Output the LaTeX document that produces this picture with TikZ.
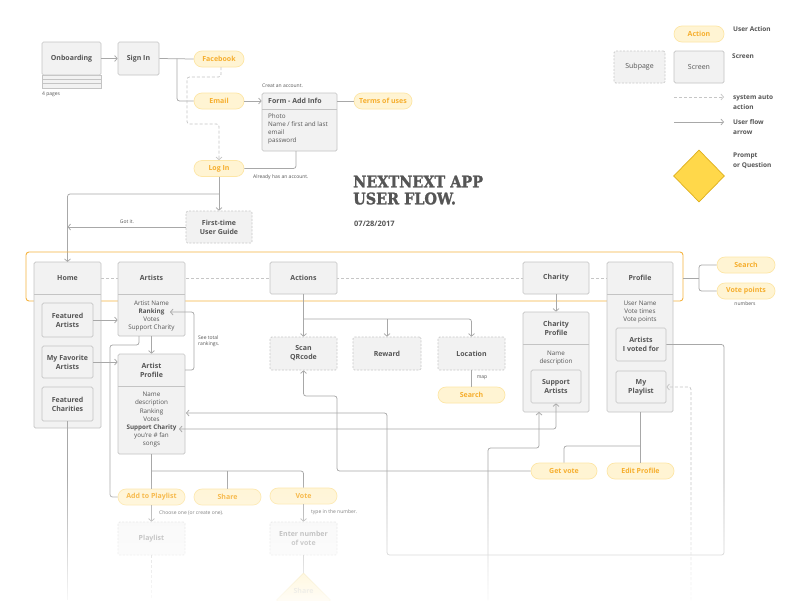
\documentclass[tikz,border=0pt]{standalone}
\usepackage{fontspec}
\setmainfont{Open Sans}
\newfontfamily\titlefont{DejaVu Serif}[BoldFeatures={FakeBold=1.6}]
\usetikzlibrary{arrows.meta,fadings,shapes.geometric}
\definecolor{tgray}{HTML}{555555}
\definecolor{bdr}{HTML}{C4C4C4}
\definecolor{bfill}{HTML}{F2F2F2}
\definecolor{dbdr}{HTML}{C8C8C8}
\definecolor{lgray}{HTML}{A8A8A8}
\definecolor{dgray}{HTML}{C6C6C6}
\definecolor{pfill}{HTML}{FFF4D3}
\definecolor{pbdr}{HTML}{FDE6A6}
\definecolor{porange}{HTML}{F6AE2D}
\definecolor{bandc}{HTML}{F6B440}
\definecolor{diafill}{HTML}{FFD84A}
\definecolor{diabdr}{HTML}{DDAF1C}
\tikzset{
 scr/.style={draw=bdr, fill=bfill, line width=0.7pt, rounded corners=1.5pt, inner sep=0pt, align=center, font=\bfseries\fontsize{7}{9}\selectfont, text=tgray},
 subpg/.style={scr, draw=dbdr, dash pattern=on 2pt off 1.5pt},
 pill/.style={draw=pbdr, fill=pfill, line width=0.7pt, rounded corners=8pt, minimum height=16pt, inner sep=0pt, font=\bfseries\fontsize{7}{8}\selectfont, text=porange},
 ln/.style={draw=lgray, line width=0.75pt, rounded corners=2.5pt},
 tip/.tip={Straight Barb[length=2.6pt,width=6pt]},
 arr/.style={ln, -tip},
 dln/.style={draw=dgray, line width=0.75pt, dash pattern=on 3pt off 2pt, rounded corners=2.5pt},
 small/.style={font=\fontsize{5}{6.5}\selectfont, text=tgray, inner sep=0pt, align=left},
 body/.style={font=\fontsize{6.3}{8}\selectfont, align=center, text=tgray, inner sep=0pt},
 hd/.style={font=\bfseries\fontsize{7}{9}\selectfont, align=center, text=tgray, inner sep=0pt},
 leg/.style={font=\bfseries\fontsize{6.5}{10}\selectfont, text=tgray, anchor=west, align=left, inner sep=0pt},
 div/.style={draw=bdr, line width=0.7pt},
 ttl/.style={anchor=west, inner sep=0pt, text=tgray, font=\titlefont\bfseries\fontsize{16}{18}\selectfont},
}
\begin{document}
\begin{tikzpicture}[x=1pt,y=-1pt]
\useasboundingbox[fill=white] (0,0) rectangle (800,600);

% ---------- top-left ----------
\fill[bfill, draw=bdr, line width=0.6pt] (42,75) rectangle (101,88);
\draw[div] (42,79) -- (101,79);
\draw[div] (42,83.5) -- (101,83.5);
\node[scr, minimum width=59pt, minimum height=33pt] (onb) at (71.5,58.5) {Onboarding};
\node[small, anchor=west] (pages) at (42,94) {4 pages};
\node[scr, minimum width=41pt, minimum height=33pt] (signin) at (138.5,58.5) {Sign In};
\node[pill, minimum width=50pt] (fb) at (219,59) {Facebook};
\node[pill, minimum width=50pt] (email) at (219,101) {Email};
\node[scr, minimum width=75pt, minimum height=58pt] (form) at (299.5,122) {};
\draw[div] (262,109) -- (337,109);
\node[hd, anchor=west] (formhd) at (268,101) {Form - Add Info};
\node[body, anchor=north west, align=left] (formbody) at (268,114) {Photo\\Name / first and last\\email\\password};
\node[small, anchor=west] (create) at (262,86) {Creat an account.};
\node[pill, minimum width=58pt] (terms) at (383,101) {Terms of uses};
\node[pill, minimum width=50pt] (login) at (219,168.5) {Log In};
\node[small, anchor=west] (already) at (253,177) {Already has an account.};
\node[subpg, minimum width=66pt, minimum height=32pt] (first) at (219,227) {First-time\\User Guide};
\node[small] (gotit) at (127,222) {Got it.};

\draw[arr] (onb) -- (signin);
\draw[ln] (signin.east) -- (fb.west);
\draw[ln] (177,58.5) |- (email.west);
\draw[arr] (email.east) -- (email.east -| form.west);
\draw[ln] (terms.west -| form.east) -- (terms.west);
\draw[dln, -tip] (221,67) -- (221,77) -- (187,77) -- (187,124) -- (219,124) -- (login.north);
\draw[ln] (296,151) |- (login.east);
\draw[arr] (login) -- (first);
\draw[arr] (219,194) -| (67.5,262);
\draw[arr] (first.west) -- (67.5,227);

% ---------- title ----------
\node[ttl] (t1) at (353,181.5) {\scalebox{0.9}[1]{NEXTNEXT APP}};
\node[ttl] (t2) at (353,198.5) {\scalebox{0.9}[1]{USER FLOW.}};
\node[anchor=west, inner sep=0pt, text=tgray, font=\bfseries\fontsize{7.5}{9}\selectfont] (date) at (354,224) {07/28/2017};

% ---------- legend ----------
\node[pill, minimum width=50pt] (legaction) at (699,34) {Action};
\node[leg] (l1) at (733,29) {User Action};
\node[subpg, minimum width=51pt, minimum height=32pt, font=\fontsize{7}{9}\selectfont] (legsub) at (639.5,67) {Subpage};
\node[scr, minimum width=50pt, minimum height=32pt, font=\fontsize{7}{9}\selectfont] (legscr) at (699,67) {Screen};
\node[leg] (l2) at (732,56) {Screen};
\coordinate (da) at (674,97); \coordinate (db) at (724,97);
\draw[dln, -tip] (da) -- (db);
\node[leg] (l3) at (733,102) {system auto\\action};
\coordinate (sa) at (674,122); \coordinate (sb) at (724,122);
\draw[arr] (sa) -- (sb);
\node[leg] (l4) at (733,127) {User flow\\arrow};
\node[diamond, draw=diabdr, fill=diafill, line width=0.7pt, minimum width=51pt, minimum height=52pt, inner sep=0pt] (legdia) at (699,176) {};
\node[leg] (l5) at (733,160.5) {Prompt\\or Question};

% ---------- band ----------
\node[draw=bandc, line width=0.9pt, rounded corners=3pt, minimum width=657pt, minimum height=49pt, inner sep=0pt] (band) at (354.5,276.5) {};
\draw[dln] (101,278) -- (607,278);

% ---------- main screens ----------
\node[scr, minimum width=67pt, minimum height=166pt] (home) at (67.5,345) {};
\draw[div] (34,294) -- (101,294);
\node[hd] (homehd) at (67.5,278) {Home};
\node[scr, minimum width=51pt, minimum height=34pt] (fa) at (67.5,320) {Featured\\Artists};
\node[scr, minimum width=51pt, minimum height=32pt] (mfa) at (67.5,362) {My Favorite\\Artists};
\node[scr, minimum width=51pt, minimum height=34pt] (fc) at (67.5,404) {Featured\\Charities};

\node[scr, minimum width=67pt, minimum height=74pt] (artists) at (151.5,299) {};
\draw[div] (118,294) -- (185,294);
\node[hd] (arthd) at (151.5,278) {Artists};
\node[body] (artbody) at (151.5,316) {Artist Name\\\textbf{Ranking}\\Votes\\Support Charity};

\node[scr, minimum width=67pt, minimum height=100pt] (ap) at (151.5,404) {};
\draw[div] (118,386) -- (185,386);
\node[hd] (aphd) at (151.5,370.5) {Artist\\Profile};
\node[body] (apbody) at (151.5,419.5) {Name\\description\\Ranking\\Votes\\\textbf{Support Charity}\\you're \# fan\\songs};
\node[small, anchor=west] (seetot) at (198,341) {See total\\rankings.};

\node[scr, minimum width=67pt, minimum height=32pt] (actions) at (303.5,278) {Actions};
\node[subpg, minimum width=67pt, minimum height=33pt] (scan) at (303.5,353.5) {Scan\\QRcode};
\node[subpg, minimum width=68pt, minimum height=33pt] (reward) at (387,353.5) {Reward};
\node[subpg, minimum width=67pt, minimum height=33pt] (loc) at (471.5,353.5) {Location};
\node[pill, minimum width=67pt] (msearch) at (471.5,395) {Search};
\node[small] (map) at (482,378) {map};

\node[scr, minimum width=66pt, minimum height=32pt] (charity) at (556,278) {Charity};
\node[scr, minimum width=66pt, minimum height=100pt] (cprof) at (556,362) {};
\draw[div] (523,344) -- (589,344);
\node[hd] (cphd) at (556,328.5) {Charity\\Profile};
\node[body] (cpbody) at (556,358) {Name\\description};
\node[scr, minimum width=50pt, minimum height=33pt] (supa) at (556,386.5) {Support\\Artists};

\node[scr, minimum width=66pt, minimum height=150pt] (profile) at (640,337) {};
\draw[div] (607,294) -- (673,294);
\node[hd] (prhd) at (640,278) {Profile};
\node[body] (prbody) at (640,312) {User Name\\Vote times\\Vote points};
\node[scr, minimum width=50pt, minimum height=33pt] (avf) at (641,344.5) {Artists\\I voted for};
\node[scr, minimum width=50pt, minimum height=32pt] (mypl) at (641,387) {My\\Playlist};

\node[pill, minimum width=58pt] (psearch) at (746,265) {Search};
\node[pill, minimum width=58pt] (vpts) at (746,291) {Vote points};
\node[small] (numbers) at (745,304) {numbers};

\node[pill, minimum width=66pt] (getvote) at (564,471) {Get vote};
\node[pill, minimum width=67pt] (editp) at (640.5,471) {Edit Profile};

\node[pill, minimum width=67pt] (addpl) at (151.5,497) {Add to Playlist};
\node[pill, minimum width=67pt] (share) at (227.5,497) {Share};
\node[pill, minimum width=67pt] (vote) at (303.5,496) {Vote};
\node[subpg, minimum width=67pt, minimum height=33pt, opacity=0.6] (playlist) at (151.5,538.5) {Playlist};
\node[subpg, minimum width=67pt, minimum height=33pt, opacity=0.6] (enter) at (303.5,538.5) {Enter number\\of vote};
\node[small, anchor=west] (choose) at (159,513) {Choose one (or create one).};
\node[small, anchor=west] (typein) at (311,512) {type in the number.};
\node[diamond, draw=diabdr, fill=diafill, line width=0.7pt, minimum width=54pt, minimum height=54pt, inner sep=0pt, opacity=0.6] (sharedia) at (303.5,600) {};
\node[hd, opacity=0.6] (sharetxt) at (303.5,591) {Share};

% ---------- connectors ----------
\draw[ln] (683,278) -- (699,278);
\draw[ln] (psearch.west) -- (699,265) -- (699,291) -- (vpts.west);
\draw[arr] (fa.east) -- (fa.east -| artists.west);
\draw[arr] (mfa.east) -- (mfa.east -| ap.west);
\draw[arr] (artists) -- (ap);
\draw[arr] (185,370) -- (194,370) -- (194,312) -- (170,312);
\draw[ln] (139,336) -- (139,345) -- (110,345) -- (110,497) -- (addpl.west);
\draw[ln] (fc.south) -- (67.5,600);
\draw[ln] (ap.south) -- (addpl.north);
\draw[ln] (151.5,471) -| (vote.north);
\draw[ln] (share.north) -- (227.5,471);
\draw[arr] (addpl) -- (playlist);
\draw[arr] (vote) -- (enter);
\draw[ln] (enter.south) -- (sharedia.north);
\draw[dln] (playlist.south) -- (151.5,600);
\draw[arr] (actions) -- (scan);
\draw[arr] (303.5,319) -| (loc.north);
\draw[arr] (387,319) -- (reward.north);
\draw[ln] (loc) -- (msearch);
\draw[arr] (charity) -- (cprof);
\draw[ln] (profile.south) -- (640,463);
\draw[ln] (640,446) -| (getvote.north);
\draw[arr] (getvote.west) -- (337,471) -- (337,396) -- (303.5,396) -- (scan.south);
\draw[arr] (avf.east) -- (724,344.5) -- (724,555) -- (387,555) -- (387,413) -- (186,413);
\draw[ln, tip-tip] (179,429) -| (supa.south);
\draw[arr] (488,600) -- (488,448) -- (539,448) -- (539,412);
\draw[dln, -tip] (691,600) -- (691,387) -- (mypl.east);

% ---------- bottom fade ----------
\fill[white, fill opacity=0.93, path fading=north] (0,475) rectangle (800,601);
\end{tikzpicture}
\end{document}
